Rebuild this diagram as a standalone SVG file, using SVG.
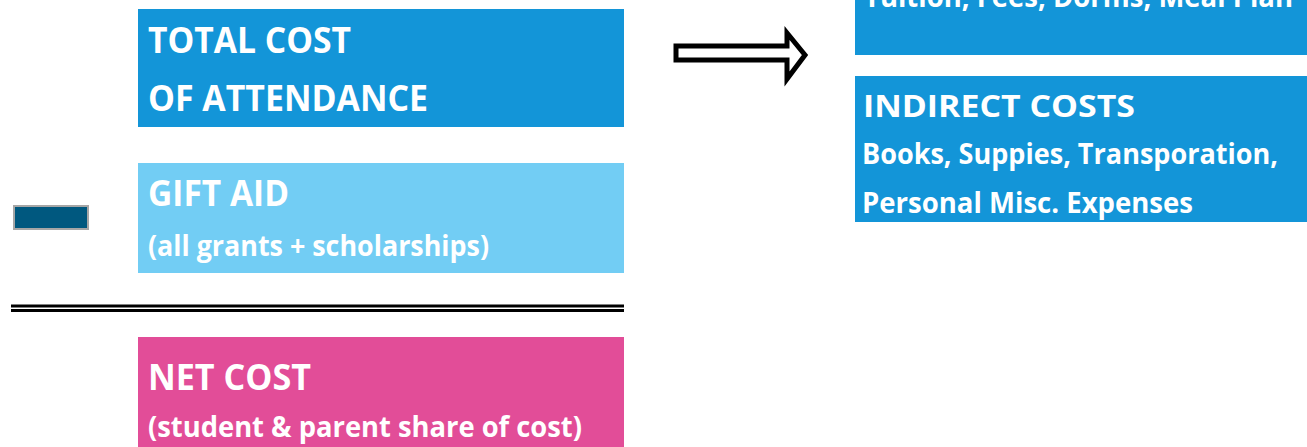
<svg xmlns="http://www.w3.org/2000/svg" width="1307" height="447" viewBox="0 0 1307 447">
<style>
text{font-family:"Open Sans","Noto Sans","Liberation Sans",sans-serif;font-weight:bold;fill:#ffffff}
.h{font-size:35px}
.s{font-size:28px}
.r{font-size:29px}
.rh{font-size:31px}
</style>
<rect width="1307" height="447" fill="#ffffff"/>
<g id="total-cost">
<rect x="138" y="9" width="486" height="118" fill="#1395D8"/>
<text class="h" x="148" y="53" textLength="203" lengthAdjust="spacingAndGlyphs">TOTAL COST</text>
<text class="h" x="148" y="111" textLength="280" lengthAdjust="spacingAndGlyphs">OF ATTENDANCE</text>
</g>
<g id="gift-aid">
<rect x="138" y="163" width="486" height="110" fill="#72CDF4"/>
<text class="h" x="148" y="206" textLength="141" lengthAdjust="spacingAndGlyphs">GIFT AID</text>
<text class="s" x="148" y="256" textLength="341" lengthAdjust="spacingAndGlyphs">(all grants + scholarships)</text>
</g>
<g id="minus">
<rect x="14" y="206" width="74" height="23" fill="#00587F" stroke="#A6A6A6" stroke-width="2"/>
</g>
<g id="equals">
<rect x="11" y="304.5" width="613" height="3" fill="#000000"/>
<rect x="11" y="309" width="613" height="3" fill="#000000"/>
</g>
<g id="net-cost">
<rect x="138" y="337" width="486" height="110" fill="#E24D98"/>
<text class="h" x="148" y="390" textLength="163" lengthAdjust="spacingAndGlyphs">NET COST</text>
<text class="s" x="148" y="437" textLength="434" lengthAdjust="spacingAndGlyphs">(student &amp; parent share of cost)</text>
</g>
<g id="connectors">
<polygon points="676,46 787,46 787,33 805,55 787,79 787,60 676,60" fill="#ffffff" stroke="#000000" stroke-width="5" stroke-linejoin="miter"/>
</g>
<g id="direct-costs">
<rect x="855" y="0" width="452" height="55" fill="#1395D8"/>
<text class="r" x="864" y="7" textLength="429" lengthAdjust="spacingAndGlyphs">Tuition, Fees, Dorms, Meal Plan</text>
</g>
<g id="indirect-costs">
<rect x="855" y="76" width="452" height="146" fill="#1395D8"/>
<text class="rh" x="863" y="117" textLength="272" lengthAdjust="spacingAndGlyphs">INDIRECT COSTS</text>
<text class="r" x="862" y="164" textLength="416" lengthAdjust="spacingAndGlyphs">Books, Suppies, Transporation,</text>
<text class="r" x="862" y="213" textLength="331" lengthAdjust="spacingAndGlyphs">Personal Misc. Expenses</text>
</g>
</svg>
